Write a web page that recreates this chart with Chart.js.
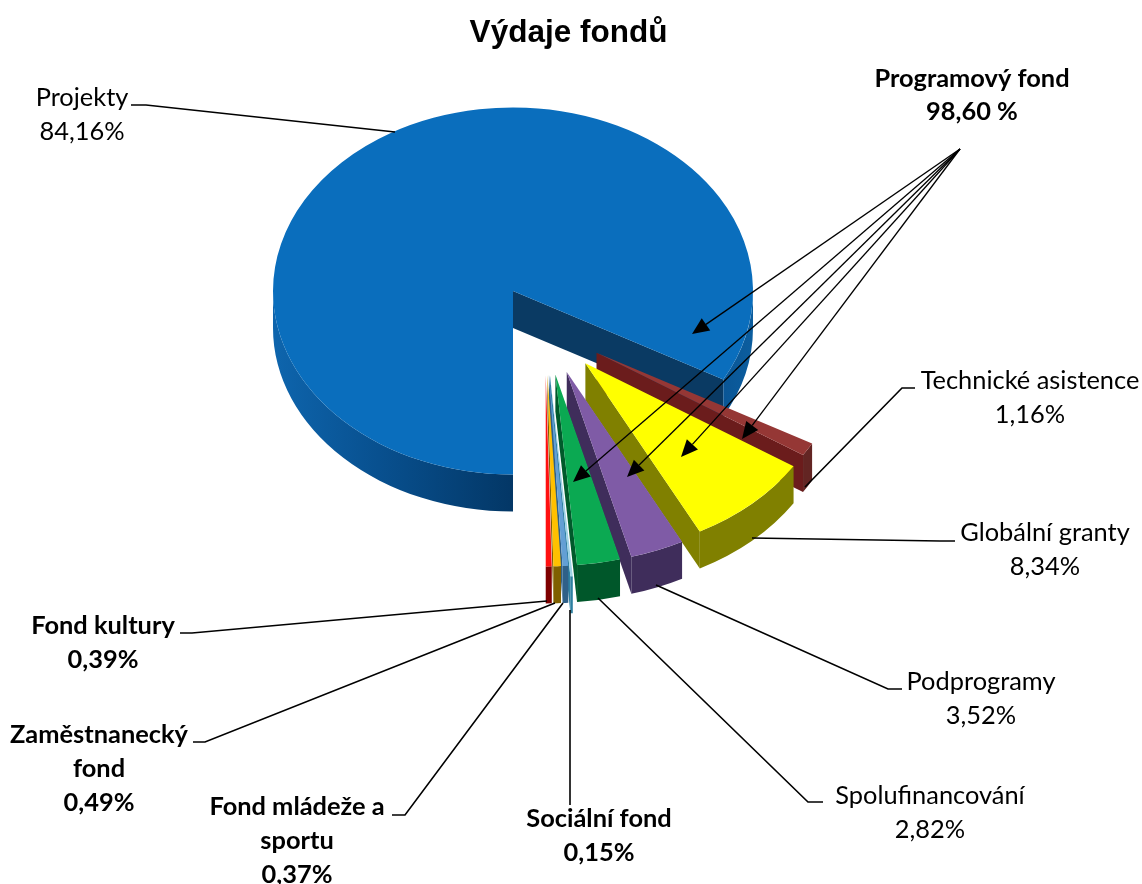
<!DOCTYPE html>
<html lang="cs">
<head>
<meta charset="utf-8">
<title>Výdaje fondů</title>
<script src="https://cdn.jsdelivr.net/npm/chart.js@4/dist/chart.umd.min.js"></script>
<style>
  html, body { margin: 0; padding: 0; background: #fff; }
  canvas { display: block; }
</style>
</head>
<body>
<canvas id="fundChart" width="1142" height="884"></canvas>
<script>
const categories = ['Projekty', 'Technické asistence', 'Globální granty', 'Podprogramy', 'Spolufinancování',
  'Sociální fond', 'Fond mládeže a sportu', 'Zaměstnanecký fond', 'Fond kultury'];
const values = [84.16, 1.16, 8.34, 3.52, 2.82, 0.15, 0.37, 0.49, 0.39];
const programLabel = 'Programový fond';
const programValue = '98,60 %';

const faceColors = ['#0a6ebd', '#953735', '#ffff00', '#7f5ba6', '#0ba952', '#9ed3e6', '#639fd4', '#ffc000', '#ff1010'];
const wallColors = ['#033766', '#632523', '#808000', '#3f2d5b', '#00572a', '#2d7fa0', '#2f6088', '#7f6000', '#7f0000'];
const cutColors = ['#0a3a63', '#6b1c1c', '#808000', '#3f2d5b', '#005a2b', '#2d7fa0', '#2f6088', '#7f6000', '#7f0000'];

// how the picture is laid out, not data
const pie = { x: 513, y: 291, tilt: 0.765, depth: 37, radius: 240, explode: 60, shiftX: 32, shiftY: 50 };
const explodedRadii = [240, 246, 248, 250, 250, 264, 250, 250, 250];

const labelLayout = [
  { lines: ['Projekty'], x: 82, y: 98, bold: false },
  { lines: ['Technické asistence'], x: 1030, y: 381, bold: false },
  { lines: ['Globální granty'], x: 1045, y: 533, bold: false },
  { lines: ['Podprogramy'], x: 981, y: 682, bold: false },
  { lines: ['Spolufinancování'], x: 930, y: 796, bold: false },
  { lines: ['Sociální fond'], x: 599, y: 819, bold: true },
  { lines: ['Fond mládeže a', 'sportu'], x: 297, y: 807, bold: true },
  { lines: ['Zaměstnanecký', 'fond'], x: 99, y: 735, bold: true },
  { lines: ['Fond kultury'], x: 103, y: 626, bold: true }
];

const leaderLines = [
  [[131, 105], [146, 105], [395, 132]],
  [[915, 388], [902, 388], [805, 487]],
  [[955, 541], [940, 541], [752, 538]],
  [[902, 689], [888, 689], [656, 585]],
  [[823, 802], [808, 802], [598, 598]],
  [[570, 805], [570, 610]],
  [[392, 815], [405, 815], [563, 603]],
  [[193, 742], [205, 742], [555, 603]],
  [[180, 633], [192, 633], [547, 601]]
];

const arrowStart = [960, 149];
const arrowTips = [[692, 334], [742, 439], [681, 457], [627, 477], [573, 482]];

function placeArcs(chart) {
  const arcs = chart.getDatasetMeta(0).data;
  const area = chart.chartArea;
  const cx = (area.left + area.right) / 2;
  const cy = (area.top + area.bottom) / 2;
  arcs.forEach((arc, i) => {
    arc.outerRadius = explodedRadii[i];
    if (i === 0) {
      arc.x = cx;
      arc.y = cy;
      return;
    }
    const mid = (arc.startAngle + arc.endAngle) / 2;
    arc.x = cx + pie.shiftX + Math.cos(mid) * pie.explode;
    arc.y = cy + pie.shiftY + Math.sin(mid) * pie.explode;
  });
  return { cx, cy };
}

function rimPath(ctx, x, y, r, from, to) {
  ctx.beginPath();
  ctx.ellipse(x, y, r, r * pie.tilt, 0, from, to);
  ctx.ellipse(x, y + pie.depth, r, r * pie.tilt, 0, to, from, true);
  ctx.closePath();
}

function drawWalls(chart, ctx, center) {
  const arcs = chart.getDatasetMeta(0).data;
  arcs.forEach((arc, i) => {
    const x = pie.x + arc.x - center.cx;
    const y = pie.y + (arc.y - center.cy) * pie.tilt;
    const r = arc.outerRadius;
    const end = arc.endAngle;

    // cut face along the end edge of the slice
    const rimX = x + Math.cos(end) * r;
    const rimY = y + Math.sin(end) * r * pie.tilt;
    ctx.fillStyle = cutColors[i];
    ctx.beginPath();
    ctx.moveTo(x, y);
    ctx.lineTo(rimX, rimY);
    ctx.lineTo(rimX, rimY + pie.depth);
    ctx.lineTo(x, y + pie.depth);
    ctx.closePath();
    ctx.fill();

    // outer wall, only the part facing the viewer
    let wallFill = wallColors[i];
    if (i === 0) {
      wallFill = ctx.createLinearGradient(x - r, 0, x + r, 0);
      wallFill.addColorStop(0, '#0e65ad');
      wallFill.addColorStop(0.22, '#08508f');
      wallFill.addColorStop(0.5, '#033766');
      wallFill.addColorStop(0.9, '#08508f');
      wallFill.addColorStop(1, '#0c5e9f');
    }
    ctx.fillStyle = wallFill;
    [0, 2 * Math.PI].forEach(turn => {
      const from = Math.max(arc.startAngle, turn);
      const to = Math.min(end, turn + Math.PI);
      if (to > from) {
        rimPath(ctx, x, y, r, from, to);
        ctx.fill();
      }
    });
  });
}

const pie3d = {
  id: 'pie3d',
  beforeDatasetsDraw(chart) {
    const ctx = chart.ctx;
    const center = placeArcs(chart);
    drawWalls(chart, ctx, center);
    ctx.save();
    ctx.translate(pie.x, pie.y);
    ctx.scale(1, pie.tilt);
    ctx.translate(-center.cx, -center.cy);
  },
  afterDatasetsDraw(chart) {
    chart.ctx.restore();
  }
};

function drawArrow(ctx, from, tip) {
  const angle = Math.atan2(tip[1] - from[1], tip[0] - from[0]);
  const len = 17;
  const half = 7.5;
  const baseX = tip[0] - Math.cos(angle) * len;
  const baseY = tip[1] - Math.sin(angle) * len;
  ctx.beginPath();
  ctx.moveTo(from[0], from[1]);
  ctx.lineTo(baseX, baseY);
  ctx.strokeStyle = '#000';
  ctx.lineWidth = 1.3;
  ctx.stroke();
  ctx.beginPath();
  ctx.moveTo(tip[0], tip[1]);
  ctx.lineTo(baseX - Math.sin(angle) * half, baseY + Math.cos(angle) * half);
  ctx.lineTo(baseX + Math.sin(angle) * half, baseY - Math.cos(angle) * half);
  ctx.closePath();
  ctx.fillStyle = '#000';
  ctx.fill();
}

const outerLabels = {
  id: 'outerLabels',
  afterDraw(chart) {
    const ctx = chart.ctx;
    ctx.save();
    ctx.strokeStyle = '#000';
    ctx.lineWidth = 1.6;
    leaderLines.forEach(points => {
      ctx.beginPath();
      points.forEach((p, i) => (i === 0 ? ctx.moveTo(p[0], p[1]) : ctx.lineTo(p[0], p[1])));
      ctx.stroke();
    });
    arrowTips.forEach(tip => drawArrow(ctx, arrowStart, tip));

    ctx.fillStyle = '#000';
    ctx.textAlign = 'center';
    ctx.textBaseline = 'middle';
    labelLayout.forEach((label, i) => {
      ctx.font = (label.bold ? 'bold ' : '') + '25.4px Lato';
      const text = label.lines.concat(values[i].toFixed(2).replace('.', ',') + '%');
      text.forEach((line, n) => ctx.fillText(line, label.x, label.y + n * 33.8));
    });
    ctx.font = 'bold 25.4px Lato';
    ctx.fillText(programLabel, 972, 79);
    ctx.fillText(programValue, 972, 112);
    ctx.restore();
  }
};

new Chart(document.getElementById('fundChart'), {
  type: 'pie',
  data: {
    labels: categories,
    datasets: [{
      data: values,
      backgroundColor: faceColors,
      borderWidth: 0,
      rotation: 180,
      radius: pie.radius,
      clip: false
    }]
  },
  options: {
    responsive: false,
    animation: false,
    layout: { padding: { right: 5 } },
    plugins: {
      legend: { display: false },
      tooltip: { enabled: false },
      title: {
        display: true,
        text: 'Výdaje fondů',
        color: '#000',
        font: { family: '"Liberation Sans"', size: 31.5, weight: 'bold' },
        padding: { top: 14, bottom: 10 }
      }
    }
  },
  plugins: [pie3d, outerLabels]
});
</script>
</body>
</html>
